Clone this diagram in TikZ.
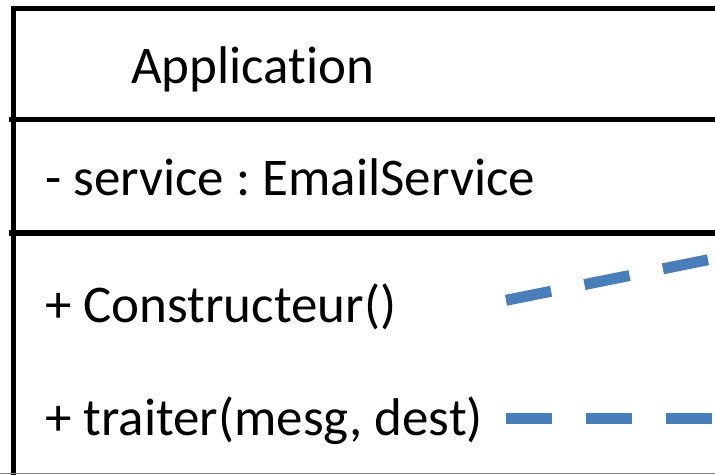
\documentclass[tikz,border=0pt]{standalone}
\usepackage{fontspec}
\setmainfont[RawFeature=-liga]{Carlito}
\definecolor{deplink}{HTML}{4A7EBB}
\frenchspacing
\begin{document}
\begin{tikzpicture}[x=1pt,y=-1pt,
  frame/.style={line width=5.5pt,black},
  member/.style={anchor=base west,inner sep=0pt,font=\fontsize{53}{60}\selectfont},
  dep/.style={deplink,line width=11pt,dash pattern=on 46pt off 34pt}]
\useasboundingbox (0,0) rectangle (715,474);
\begin{scope}
\clip (0,0) rectangle (715,474);
% class frame
\draw[frame] (13.5,6) -- (13.5,480);
\draw[frame] (11,8.5) -- (720,8.5);
\draw[frame] (9,119.5) -- (720,119.5);
\draw[frame] (9,233) -- (720,233);
\draw[gray,line width=1pt] (0,473.5) -- (715,473.5);
% compartments
\node[member] (name) at (131,83.5) {Application};
\node[member] (attr) at (45,195) {- service : EmailService};
\node[member] (ctor) at (45,322) {+ Constructeur()};
\node[member] (proc) at (45,435) {+ traiter(mesg, dest)};
% dependency links leaving the methods
\coordinate (ctorout) at (506,300.3);
\coordinate (ctorfar) at (806,240.1);
\coordinate (procout) at (506,418.5);
\coordinate (procfar) at (806,418.5);
\draw[dep] (ctorout) -- (ctorfar);
\draw[dep] (procout) -- (procfar);
\end{scope}
\end{tikzpicture}
\end{document}
